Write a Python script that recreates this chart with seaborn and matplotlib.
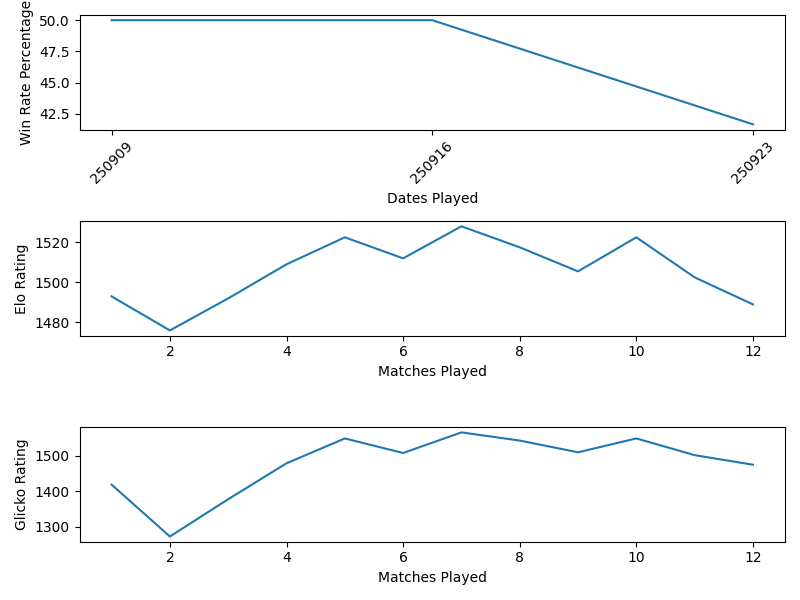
import numpy as np
import pandas as pd
import matplotlib
matplotlib.use('Agg')
import matplotlib.pyplot as plt
import seaborn as sns

# win rate per date
dates = ['250909', '250916', '250923']
win_rate = [50.0, 50.0, 41.67]

# ratings per match
matches = list(range(1, 13))
elo = [1493, 1476, 1492, 1509, 1522.5, 1512, 1528, 1517.5, 1505.5, 1522.5, 1502.5, 1489]
glicko = [1419, 1273, 1378, 1479, 1549, 1508, 1566, 1543, 1510, 1549, 1502, 1475]

fig, axes = plt.subplots(3, 1, figsize=(8, 6), dpi=100)

sns.lineplot(x=dates, y=win_rate, ax=axes[0], sort=False)
axes[0].set_xlabel('Dates Played')
axes[0].set_ylabel('Win Rate Percentage')
axes[0].tick_params(axis='x', rotation=45)

sns.lineplot(x=matches, y=elo, ax=axes[1])
axes[1].set_xlabel('Matches Played')
axes[1].set_ylabel('Elo Rating')

sns.lineplot(x=matches, y=glicko, ax=axes[2])
axes[2].set_xlabel('Matches Played')
axes[2].set_ylabel('Glicko Rating')

plt.tight_layout()
plt.savefig('out.png')
